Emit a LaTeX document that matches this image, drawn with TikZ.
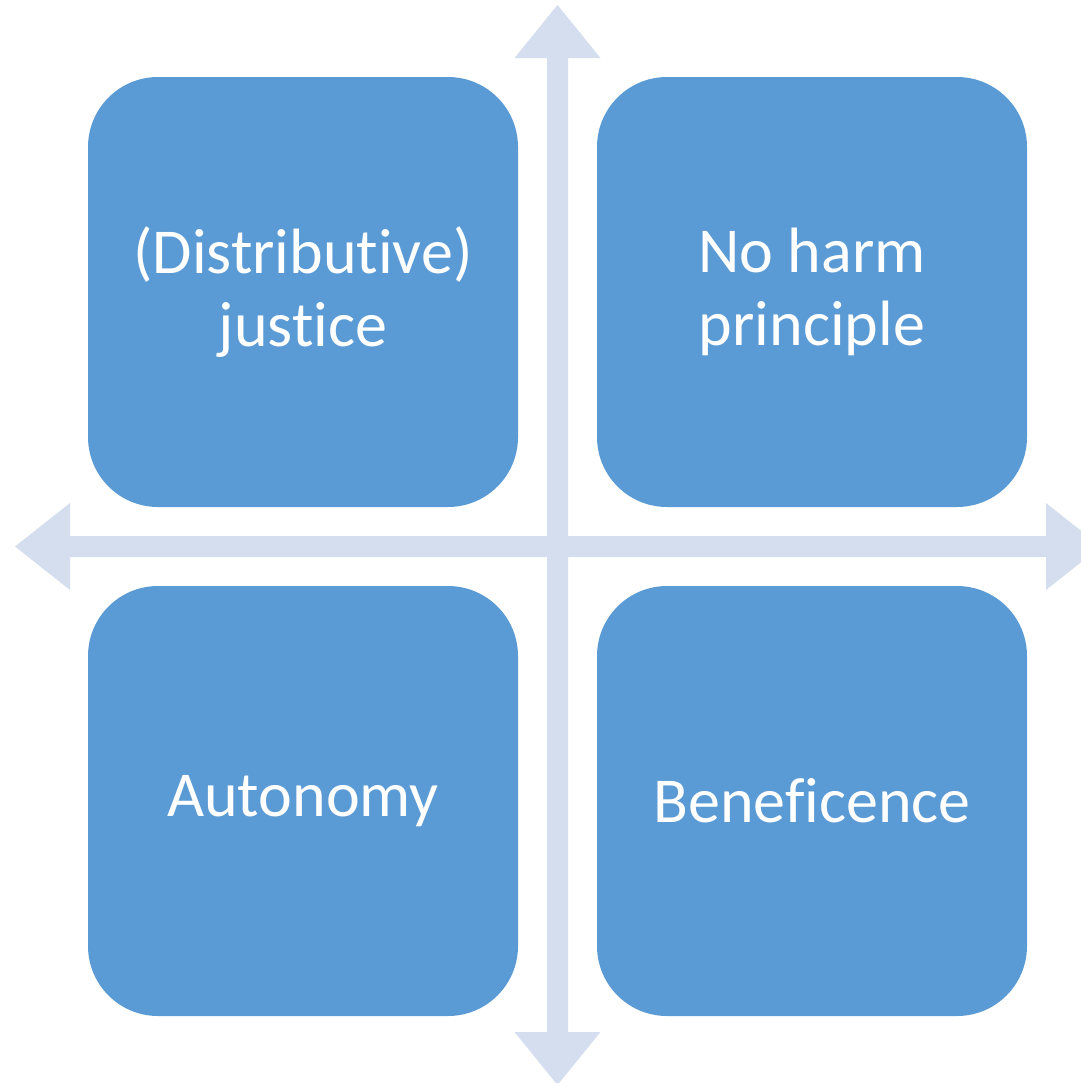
\documentclass[tikz,border=0pt]{standalone}
\usepackage{fontspec}
\setmainfont{Carlito}[Ligatures=CommonOff]
\usepackage{xcolor}
\usepackage{tikz}
\usetikzlibrary{positioning}

\definecolor{boxblue}{HTML}{5B9BD5}
\definecolor{axisblue}{HTML}{D4DEEF}

\begin{document}
\begin{tikzpicture}[x=0.5pt, y=-0.5pt, node distance=254.5pt,
        principle/.style={rounded corners=35pt, fill=boxblue, text=white,
            minimum width=215pt, minimum height=215pt, align=center,
            font=\fontsize{32}{36.5}\selectfont}]
        \useasboundingbox (0,0) rectangle (1081,1083);

        % the two double arrows of the cross
        \fill[axisblue] (547,58) -- (514.5,58) -- (557.5,5) -- (600.5,58)
            -- (568,58) -- (568,1032) -- (600.5,1032) -- (557.5,1085)
            -- (514.5,1032) -- (547,1032) -- cycle;
        \fill[axisblue] (70,536) -- (70,503) -- (15,546.5) -- (70,590)
            -- (70,557) -- (1046,557) -- (1046,590) -- (1101,546.5)
            -- (1046,503) -- (1046,536) -- cycle;

        \node[principle, name=justice] at (303,292) {(Distributive)\\justice};
        \node[principle, name=noharm, right of=justice] {No harm\\principle};
        \node[principle, name=autonomy, below of=justice] {Autonomy};
        \node[principle, name=beneficence, right of=autonomy] {Beneficence};
    \end{tikzpicture}
\end{document}
